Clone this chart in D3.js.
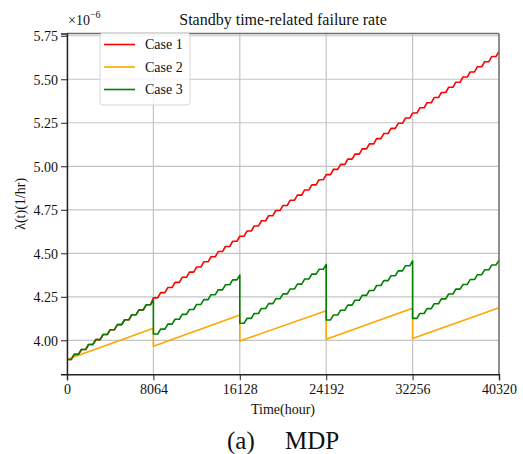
<!DOCTYPE html>
<html>
<head>
<meta charset="utf-8">
<script src="https://cdn.jsdelivr.net/npm/d3@7"></script>
<style>
  body { margin: 0; background: #fff; }
  text { font-family: "Liberation Serif", "Times New Roman", serif; fill: #111; }
</style>
</head>
<body>
<div id="chart"></div>
<script>
// step length of the staircases (hours) and the x ticks
var stepHours = 672;
var xTicks = [0, 8064, 16128, 24192, 32256, 40320];
var yTicks = [4.00, 4.25, 4.50, 4.75, 5.00, 5.25, 5.50, 5.75];

// Case 1: value at every 672 h knot (x1e-6)
var case1 = [3.890, 3.919, 3.947, 3.976, 4.004, 4.033, 4.061, 4.090, 4.118, 4.147, 4.175, 4.204,
  4.244, 4.274, 4.303, 4.333, 4.362, 4.392, 4.421, 4.451, 4.480, 4.510, 4.539, 4.569,
  4.598, 4.628, 4.657, 4.687, 4.716, 4.746, 4.775, 4.805, 4.834, 4.864, 4.893, 4.923,
  4.952, 4.982, 5.011, 5.041, 5.070, 5.100, 5.129, 5.159, 5.188, 5.218, 5.247, 5.277,
  5.306, 5.336, 5.365, 5.395, 5.424, 5.454, 5.483, 5.513, 5.542, 5.572, 5.601, 5.631,
  5.660];

// Case 2: straight segments, [hour, value]
var case2 = [[0, 3.890], [8064, 4.069], [8064, 3.966], [16128, 4.145], [16128, 3.996],
  [24192, 4.170], [24192, 4.006], [32256, 4.184], [32256, 4.011], [40320, 4.187]];

// Case 3: one list of knots per 8064 h period
var case3 = [
  [3.890, 3.919, 3.947, 3.976, 4.004, 4.033, 4.061, 4.090, 4.118, 4.147, 4.175, 4.204, 4.232],
  [4.036, 4.064, 4.093, 4.121, 4.149, 4.177, 4.206, 4.234, 4.262, 4.290, 4.319, 4.347, 4.375],
  [4.098, 4.126, 4.154, 4.183, 4.211, 4.239, 4.267, 4.295, 4.323, 4.352, 4.380, 4.408, 4.436],
  [4.117, 4.145, 4.173, 4.202, 4.230, 4.258, 4.286, 4.315, 4.343, 4.371, 4.399, 4.428, 4.456],
  [4.126, 4.154, 4.182, 4.210, 4.238, 4.266, 4.294, 4.321, 4.349, 4.377, 4.405, 4.433, 4.461]
];

var seriesNames = ["Case 1", "Case 2", "Case 3"];
var seriesColors = ["#ff0000", "#ffa500", "#008000"];

var margin = { top: 33.5, right: 24, bottom: 79.7, left: 67 },
  width = 523 - margin.left - margin.right,
  height = 454 - margin.top - margin.bottom;

var root = d3.select("#chart")
  .append("svg")
  .attr("width", 523)
  .attr("height", 454);

var svg = root.append("g")
  .attr("transform", "translate(" + margin.left + "," + margin.top + ")");

var x = d3.scaleLinear().domain([0, 40320]).range([0, width]);
var y = d3.scaleLinear().domain([3.8046, 5.763]).range([height, 0]);

// grid
svg.append("g")
  .selectAll("line")
  .data(xTicks)
  .enter()
  .append("line")
  .attr("x1", function (d) { return x(d); })
  .attr("x2", function (d) { return x(d); })
  .attr("y1", 0)
  .attr("y2", height)
  .attr("stroke", "#c4c4c4")
  .attr("stroke-width", 1.2);
svg.append("g")
  .selectAll("line")
  .data(yTicks)
  .enter()
  .append("line")
  .attr("x1", 0)
  .attr("x2", width)
  .attr("y1", function (d) { return y(d); })
  .attr("y2", function (d) { return y(d); })
  .attr("stroke", "#c4c4c4")
  .attr("stroke-width", 1.2);

// staircase: flat part then a short slanted rise to the next knot
function stairs(levels, t0) {
  var pts = [];
  for (var k = 0; k < levels.length - 1; k++) {
    var t = t0 + k * stepHours;
    pts.push([t, levels[k]]);
    pts.push([t + 0.6 * stepHours, levels[k]]);
  }
  pts.push([t0 + (levels.length - 1) * stepHours, levels[levels.length - 1]]);
  return pts;
}

var line = d3.line()
  .x(function (d) { return x(d[0]); })
  .y(function (d) { return y(d[1]); });

var pts3 = [];
case3.forEach(function (p, i) {
  pts3 = pts3.concat(stairs(p, i * 8064));
});

var lines = [stairs(case1, 0), case2, pts3];
svg.selectAll("path.series")
  .data(lines)
  .enter()
  .append("path")
  .attr("class", "series")
  .attr("d", line)
  .attr("fill", "none")
  .attr("stroke", function (d, i) { return seriesColors[i]; })
  .attr("stroke-width", 1.6)
  .attr("stroke-linejoin", "round");

// frame
svg.append("line").attr("x1", 0).attr("x2", width).attr("y1", 0).attr("y2", 0)
  .attr("stroke", "#6e6e6e").attr("stroke-width", 1.4);
svg.append("line").attr("x1", width).attr("x2", width).attr("y1", 0).attr("y2", height)
  .attr("stroke", "#6e6e6e").attr("stroke-width", 1.4);

// axes
var xAxis = svg.append("g")
  .attr("transform", "translate(0," + height + ")")
  .call(d3.axisBottom(x).tickValues(xTicks).tickFormat(d3.format("d")).tickSizeOuter(0).tickSize(6).tickPadding(4));
var yAxis = svg.append("g")
  .call(d3.axisLeft(y).tickValues(yTicks).tickFormat(d3.format(".2f")).tickSizeOuter(0).tickSize(6).tickPadding(3));

[xAxis, yAxis].forEach(function (a) {
  a.select(".domain").attr("stroke", "#222").attr("stroke-width", 1.4);
  a.selectAll(".tick line").attr("stroke", "#222").attr("stroke-width", 1);
  a.selectAll(".tick text")
    .style("font-family", "Liberation Serif, serif")
    .style("font-size", "14px")
    .attr("fill", "#111");
});
yAxis.selectAll(".tick text").attr("dy", "0.36em");

// offset text, title, labels
var sci = root.append("text").attr("x", 68).attr("y", 25).style("font-size", "14px");
sci.append("tspan").text("\u00d710");
sci.append("tspan").attr("dy", -7).style("font-size", "10px").text("\u22126");

root.append("text")
  .attr("x", margin.left + width / 2)
  .attr("y", 25)
  .attr("text-anchor", "middle")
  .style("font-size", "16px")
  .text("Standby time-related failure rate");

root.append("text")
  .attr("x", margin.left + width / 2)
  .attr("y", 414)
  .attr("text-anchor", "middle")
  .style("font-size", "14px")
  .text("Time(hour)");

root.append("text")
  .attr("transform", "translate(25," + (margin.top + height / 2) + ")rotate(-90)")
  .attr("text-anchor", "middle")
  .style("font-size", "14px")
  .text("\u03bb(t)(1/hr)");

root.append("text").attr("x", 227).attr("y", 449).style("font-size", "25px").text("(a)");
root.append("text").attr("x", 285).attr("y", 449).style("font-size", "25px").text("MDP");

// legend
var legend = root.append("g").attr("transform", "translate(100,33)");
legend.append("rect")
  .attr("width", 90)
  .attr("height", 72)
  .attr("rx", 3)
  .attr("fill", "#fff")
  .attr("fill-opacity", 0.8)
  .attr("stroke", "#d6d6d6")
  .attr("stroke-width", 1);
var rows = legend.selectAll("g.row")
  .data(seriesNames)
  .enter()
  .append("g")
  .attr("class", "row")
  .attr("transform", function (d, i) { return "translate(0," + (11.5 + i * 22.5) + ")"; });
rows.append("line")
  .attr("x1", 4).attr("x2", 35)
  .attr("stroke", function (d, i) { return seriesColors[i]; })
  .attr("stroke-width", 1.6);
rows.append("text")
  .attr("x", 45)
  .attr("dy", "0.35em")
  .style("font-size", "14px")
  .text(function (d) { return d; });
</script>
</body>
</html>
